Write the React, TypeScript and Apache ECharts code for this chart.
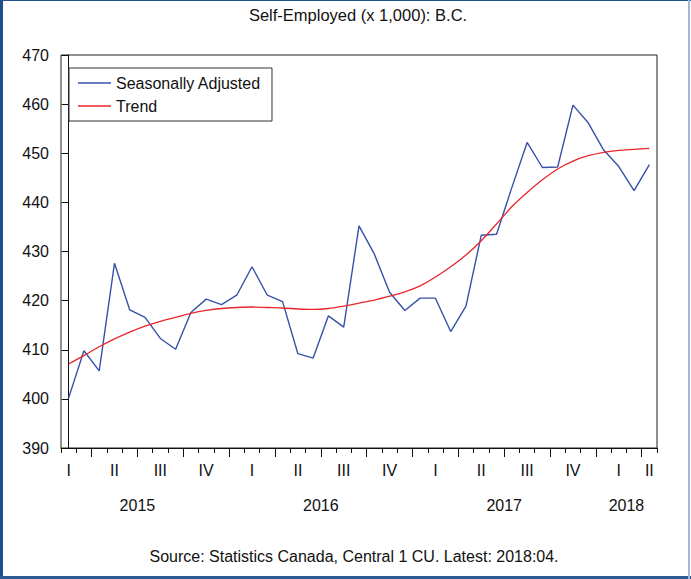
import React, { useEffect, useRef } from 'react';
import * as echarts from 'echarts';

const titleText = 'Self-Employed (x 1,000): B.C.';
const sourceText = 'Source: Statistics Canada, Central 1 CU. Latest: 2018:04.';

const months = [
  '2015-02', '2015-03', '2015-04', '2015-05', '2015-06', '2015-07', '2015-08', '2015-09', '2015-10', '2015-11', '2015-12',
  '2016-01', '2016-02', '2016-03', '2016-04', '2016-05', '2016-06', '2016-07', '2016-08', '2016-09', '2016-10', '2016-11', '2016-12',
  '2017-01', '2017-02', '2017-03', '2017-04', '2017-05', '2017-06', '2017-07', '2017-08', '2017-09', '2017-10', '2017-11', '2017-12',
  '2018-01', '2018-02', '2018-03', '2018-04',
];

const seasonallyAdjusted = [
  400.2, 409.8, 405.7, 427.6, 418.1, 416.6, 412.3, 410.1, 417.6, 420.3, 419.2,
  421.1, 426.9, 421.1, 419.8, 409.2, 408.3, 416.9, 414.6, 435.2, 429.5, 421.7, 418.0,
  420.5, 420.5, 413.7, 418.9, 433.3, 433.5, 443.0, 452.2, 447.1, 447.2, 459.8, 456.2,
  450.7, 447.3, 442.4, 447.7,
];

const trend = [
  407.1, 408.8, 410.6, 412.2, 413.6, 414.8, 415.8, 416.6, 417.4, 418.0, 418.4,
  418.6, 418.7, 418.6, 418.5, 418.3, 418.2, 418.4, 418.9, 419.5, 420.1, 420.9, 421.8,
  423.0, 424.8, 426.9, 429.3, 432.2, 435.6, 439.1, 442.0, 444.6, 446.8, 448.4, 449.5,
  450.2, 450.6, 450.8, 451.0,
];

const quarterLabels = ['I', 'II', 'III', 'IV'];
const yearLabels = ['2015', '2016', '2017', '2018'];
const yTicks = [390, 400, 410, 420, 430, 440, 450, 460, 470];

const FONT = '"Liberation Sans", Arial, Helvetica, sans-serif';

// index helpers derived from the month list
const y0 = Number(months[0].slice(0, 4));
const m0 = Number(months[0].slice(5, 7));
const lastIdx = months.length - 1;
const idxOf = (y: number, m: number) => (y - y0) * 12 + (m - m0);

const quarterPos: number[] = [];
const quarterMap: Record<string, string> = {};
const majorTicks: number[] = [];
const yearPos: number[] = [];
const yearMap: Record<string, string> = {};
yearLabels.forEach((ys) => {
  const y = Number(ys);
  const jan = idxOf(y, 1);
  const end = Math.min(jan + 11, lastIdx);
  const c = (jan + end) / 2;
  yearPos.push(c);
  yearMap[String(c)] = ys;
  quarterLabels.forEach((q, qi) => {
    const qs = jan + qi * 3;
    if (qs + 2 < 0 || qs > lastIdx) return;
    const mid = qs + 1 <= lastIdx ? qs + 1 : (qs + lastIdx) / 2;
    quarterPos.push(mid);
    quarterMap[String(mid)] = q;
    const boundary = qs - 0.5;
    if (boundary > -0.5 && boundary < lastIdx + 0.5) majorTicks.push(boundary);
  });
});
const minorTicks = months.map((_, i) => i - 0.5).concat([lastIdx + 0.5]);

export default function App() {
  const ref = useRef<HTMLDivElement>(null);
  useEffect(() => {
    const chart = echarts.init(ref.current!, null, { renderer: 'svg' });
    const option: any = {
      animation: false,
      backgroundColor: '#ffffff',
      textStyle: { fontFamily: FONT },
      grid: {
        left: 61, right: 34, top: 55, bottom: 131,
        show: true, borderColor: '#222', borderWidth: 1, backgroundColor: 'transparent',
      },
      legend: {
        data: ['Seasonally Adjusted', 'Trend'],
        orient: 'vertical',
        left: 69, top: 68,
        padding: [6, 11, 6, 9],
        icon: 'path://M0,0H33V1.4H0Z',
        symbolKeepAspect: true,
        itemWidth: 33, itemHeight: 14, itemGap: 5,
        borderColor: '#333', borderWidth: 1, backgroundColor: '#fff',
        textStyle: { fontSize: 16, lineHeight: 18, color: '#111', fontFamily: FONT },
      },
      xAxis: [
        {
          type: 'value', min: -0.5, max: lastIdx + 0.5, position: 'bottom',
          splitLine: { show: false },
          axisLine: { show: true, onZero: false, lineStyle: { color: '#111', width: 1 } },
          axisTick: { show: true, customValues: minorTicks, length: 5, lineStyle: { color: '#111' } },
          axisLabel: {
            show: true, customValues: quarterPos, margin: 14,
            fontSize: 16, color: '#111', fontFamily: FONT,
            formatter: (v: number) => quarterMap[String(v)] || '',
          },
        },
        {
          type: 'value', min: -0.5, max: lastIdx + 0.5, position: 'bottom',
          splitLine: { show: false },
          axisLine: { show: false, onZero: false },
          axisTick: { show: true, customValues: majorTicks, length: 9, lineStyle: { color: '#111' } },
          axisLabel: {
            show: true, customValues: yearPos, margin: 49,
            fontSize: 16, color: '#111', fontFamily: FONT,
            formatter: (v: number) => yearMap[String(v)] || '',
          },
        },
      ],
      yAxis: {
        type: 'value', min: yTicks[0], max: yTicks[yTicks.length - 1], interval: 10,
        splitLine: { show: false },
        axisLine: { show: true, lineStyle: { color: '#111', width: 1 } },
        axisTick: { show: true, length: 7, lineStyle: { color: '#111' } },
        axisLabel: { margin: 12, fontSize: 16, color: '#111', fontFamily: FONT },
      },
      series: [
        {
          name: 'Seasonally Adjusted', type: 'line', xAxisIndex: 0,
          data: seasonallyAdjusted.map((v, i) => [i, v]),
          symbol: 'none', color: '#3552a8',
          lineStyle: { color: '#3552a8', width: 1.4 },
        },
        {
          name: 'Trend', type: 'line', xAxisIndex: 0,
          data: trend.map((v, i) => [i, v]),
          symbol: 'none', smooth: 0.3, color: '#e8262b',
          lineStyle: { color: '#e8262b', width: 1.3 },
        },
      ],
      graphic: [
        {
          type: 'text', x: 358, y: 15,
          style: { text: titleText, font: `16.5px ${FONT}`, fill: '#111', textAlign: 'center', textVerticalAlign: 'middle', align: 'center', verticalAlign: 'middle' },
        },
        {
          type: 'text', x: 354, y: 556,
          style: { text: sourceText, font: `16px ${FONT}`, fill: '#111', textAlign: 'center', textVerticalAlign: 'middle', align: 'center', verticalAlign: 'middle' },
        },
      ],
    };
    chart.setOption(option);
    return () => chart.dispose();
  }, []);
  return (
    <div style={{ position: 'absolute', left: 0, top: 0, width: 691, height: 579, background: '#fff', overflow: 'hidden' }}>
      <div ref={ref} style={{ position: 'absolute', left: 0, top: 0, width: 691, height: 579 }} />
      <div style={{ position: 'absolute', left: 657, top: 56, width: 1, height: 392, background: '#888' }} />
      <div style={{ position: 'absolute', left: 0, top: 0, width: 691, height: 1, background: '#1f4f8c' }} />
      <div style={{ position: 'absolute', left: 0, top: 0, width: 3, height: 579, background: '#1f4f8c' }} />
      <div style={{ position: 'absolute', left: 0, top: 576, width: 691, height: 3, background: '#2c5b94' }} />
      <div style={{ position: 'absolute', left: 688, top: 0, width: 2, height: 579, background: '#9fb8d8' }} />
    </div>
  );
}
